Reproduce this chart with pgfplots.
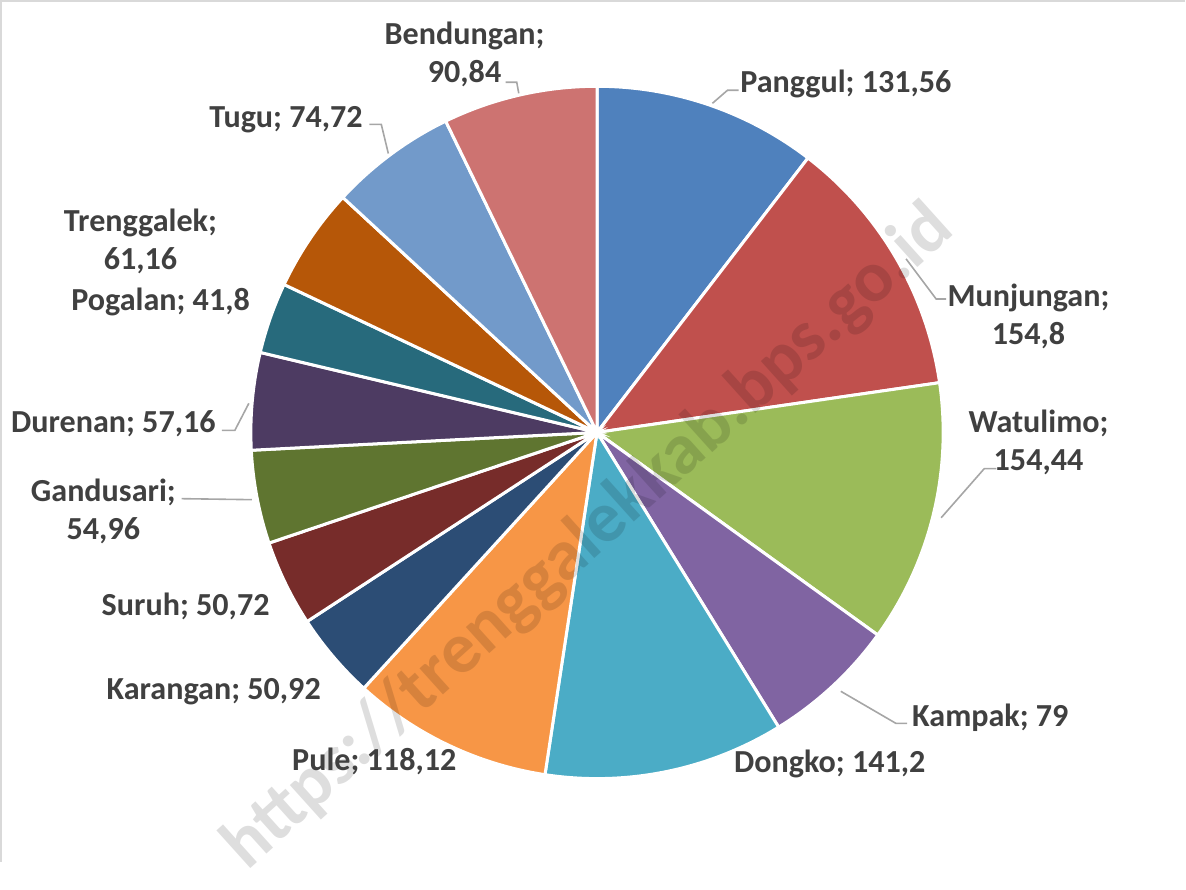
\documentclass[border=0pt]{standalone}
\usepackage{pgfplots}
\usepackage{pgfplotstable}
\usepackage{fontspec}
\setmainfont{Carlito}
\pgfplotsset{compat=1.18}
\definecolor{c0}{HTML}{4F81BD}
\definecolor{c1}{HTML}{C0504D}
\definecolor{c2}{HTML}{9BBB59}
\definecolor{c3}{HTML}{8064A2}
\definecolor{c4}{HTML}{4BACC6}
\definecolor{c5}{HTML}{F79646}
\definecolor{c6}{HTML}{2C4D75}
\definecolor{c7}{HTML}{772C2A}
\definecolor{c8}{HTML}{5F7530}
\definecolor{c9}{HTML}{4D3B62}
\definecolor{c10}{HTML}{276A7C}
\definecolor{c11}{HTML}{B65708}
\definecolor{c12}{HTML}{729ACA}
\definecolor{c13}{HTML}{CD7371}
\definecolor{labc}{HTML}{404040}
\definecolor{leadc}{HTML}{A6A6A6}
\pgfplotstableread{
name value
Panggul 131.56
Munjungan 154.8
Watulimo 154.44
Kampak 79
Dongko 141.2
Pule 118.12
Karangan 50.92
Suruh 50.72
Gandusari 54.96
Durenan 57.16
Pogalan 41.8
Trenggalek 61.16
Tugu 74.72
Bendungan 90.84
}\piedata
\tikzset{lab/.style={font=\fontsize{16}{19}\selectfont\bfseries, text=labc, align=center, inner sep=0pt, yshift=-1.5pt}}
\begin{document}
\begin{tikzpicture}
\def\total{0}
\pgfplotsforeachungrouped \i in {0,...,13}{%
  \pgfplotstablegetelem{\i}{value}\of\piedata
  \pgfmathsetmacro\total{\total+\pgfplotsretval}%
}
\def\cum{0}
\pgfplotsforeachungrouped \i in {0,...,13}{%
  \pgfplotstablegetelem{\i}{value}\of\piedata
  \let\v\pgfplotsretval
  \pgfmathsetmacro\startang{90-(\cum+\v)/\total*360}%
  \pgfmathsetmacro\endang{90-\cum/\total*360}%
  \pgfmathsetmacro\cum{\cum+\v}%
  \expandafter\xdef\csname sa\i\endcsname{\startang}%
  \expandafter\xdef\csname ea\i\endcsname{\endang}%
}
\begin{axis}[xmin=0,xmax=1186,ymin=-863,ymax=0,width=593pt,height=431.5pt,
  scale only axis,hide axis,clip=false]
\pgfplotsforeachungrouped \i in {0,...,13}{%
  \edef\temp{\noexpand\addplot[fill=c\i, draw=white, line width=1.5pt,
    domain=\csname sa\i\endcsname:\csname ea\i\endcsname, samples=60,
    variable=\noexpand\t, forget plot]
    ({600+345*cos(\noexpand\t)},{-435+345*sin(\noexpand\t)}) -- (axis cs:600,-435) -- cycle;}%
  \temp
}
% frame
\draw[gray!30, line width=1pt] (axis cs:6,-863) -- (axis cs:6,-5) -- (axis cs:1186,-5);
% watermark
\node[rotate=42, text=black, opacity=0.13, font=\fontsize{36}{36}\selectfont\bfseries]
  at (axis cs:592,-540) {https://trenggalekkab.bps.go.id};
% leaders
\draw[leadc, line width=0.8pt] (axis cs:715,-107) -- (axis cs:730,-94) -- (axis cs:741,-94);
\draw[leadc, line width=0.8pt] (axis cs:908,-262) -- (axis cs:938,-302) -- (axis cs:948,-302);
\draw[leadc, line width=0.8pt] (axis cs:943,-520) -- (axis cs:986,-471) -- (axis cs:998,-471);
\draw[leadc, line width=0.8pt] (axis cs:843,-693) -- (axis cs:898,-725) -- (axis cs:909,-725);
\draw[leadc, line width=0.8pt] (axis cs:253,-406) -- (axis cs:239,-433) -- (axis cs:226,-433);
\draw[leadc, line width=0.8pt] (axis cs:186,-501) -- (axis cs:256,-502);
\draw[leadc, line width=0.8pt] (axis cs:392,-157) -- (axis cs:385,-128) -- (axis cs:373,-128);
\draw[leadc, line width=0.8pt] (axis cs:522,-97) -- (axis cs:520,-86) -- (axis cs:509,-86);
% labels
\node[lab] at (axis cs:848,-85) {Panggul; 131,56};
\node[lab] at (axis cs:1030,-316) {Munjungan;\\154,8};
\node[lab] at (axis cs:1040,-442) {Watulimo;\\154,44};
\node[lab] at (axis cs:992,-716) {Kampak; 79};
\node[lab] at (axis cs:832,-762) {Dongko; 141,2};
\node[lab] at (axis cs:378,-760) {Pule; 118,12};
\node[lab] at (axis cs:218,-690) {Karangan; 50,92};
\node[lab] at (axis cs:190,-605) {Suruh; 50,72};
\node[lab] at (axis cs:108,-511) {Gandusari;\\54,96};
\node[lab] at (axis cs:118,-423) {Durenan; 57,16};
\node[lab] at (axis cs:165,-302) {Pogalan; 41,8};
\node[lab] at (axis cs:145,-242) {Trenggalek;\\61,16};
\node[lab] at (axis cs:290,-120) {Tugu; 74,72};
\node[lab] at (axis cs:468,-55) {Bendungan;\\90,84};
\end{axis}
\end{tikzpicture}
\end{document}
